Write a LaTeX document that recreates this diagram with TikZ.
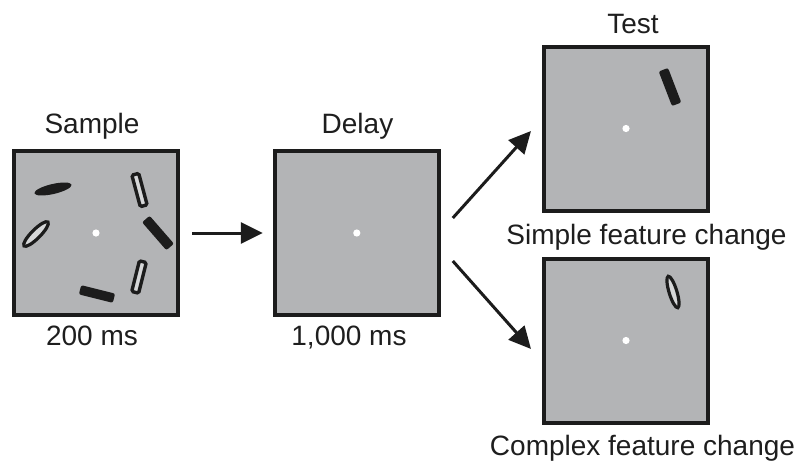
\documentclass[tikz,border=0pt]{standalone}
\usepackage{fontspec}
\setmainfont{Liberation Sans}
\usetikzlibrary{arrows.meta,calc}
\definecolor{panel}{RGB}{179,180,182}
\definecolor{slot}{RGB}{214,215,216}
\definecolor{ink}{RGB}{28,28,28}
\definecolor{txt}{RGB}{30,30,30}
\tikzset{
  screen/.style={draw=ink, line width=4pt, fill=panel, minimum size=164pt, inner sep=0pt, outer sep=2pt},
  label/.style={anchor=base, inner sep=0pt, text=txt, font=\fontsize{28}{32}\selectfont},
  flow/.style={draw=ink, line width=3pt, -{Triangle[length=22pt,width=21pt]}},
  fixdot/.style={fill=white},
  solidbar/.style={fill=ink, rounded corners=2pt},
  hollowbar/.style={draw=ink, fill=slot, line width=3.4pt, rounded corners=1.5pt},
  hollowoval/.style={draw=ink, fill=slot, line width=3.2pt},
  solidoval/.style={fill=ink},
}
% shape at centre #1, angle #2, length #3, width #4
\newcommand\solidbarat[4]{\path[solidbar, shift={(#1)}, rotate=#2] (-#3/2,-#4/2) rectangle (#3/2,#4/2);}
\newcommand\hollowbarat[4]{\path[hollowbar, shift={(#1)}, rotate=#2] (-#3/2+1.7,-#4/2+1.7) rectangle (#3/2-1.7,#4/2-1.7);}
\newcommand\solidovalat[4]{\path[solidoval, shift={(#1)}, rotate=#2] (0,0) ellipse [x radius=#3/2, y radius=#4/2];}
\newcommand\hollowovalat[4]{\path[hollowoval, shift={(#1)}, rotate=#2] (0,0) ellipse [x radius=#3/2-1.6, y radius=#4/2-1.6];}
\begin{document}
\begin{tikzpicture}[x=1pt, y=-1pt]
\useasboundingbox (0,0) rectangle (796,461);

% four display screens
\node[screen] (sample) at (96,233) {};
\node[screen] (delay)  at (356.8,233) {};
\node[screen] (testA)  at (626,128.5) {};
\node[screen] (testB)  at (626,340.5) {};

% fixation points
\foreach \s in {sample, delay, testA, testB}
  \fill[fixdot] (\s.center) circle (3.6);

% sample array
\solidovalat{53,189}{13}{38}{10}
\hollowovalat{36,234}{45}{37}{12}
\hollowbarat{139.5,190}{105}{36}{10.5}
\solidbarat{158,233}{-49}{37}{10}
\hollowbarat{139,277}{76}{35}{10.5}
\solidbarat{97,294}{-14}{35}{9.5}

% test arrays
\solidbarat{670,87}{-69}{37}{10}
\hollowovalat{673,292}{-73}{36}{11}

% captions
\node[label] (tSample) at (92,133.3) {Sample};
\node[label] (tDelay)  at (357.5,133.3) {Delay};
\node[label] (tTest)   at (633,33.3) {Test};
\node[label] (tShort)  at (92,345.7) {200 ms};
\node[label] (tLong)   at (349,345.7) {1,000 ms};
\node[label] (tSimple) at (646.5,244.3) {Simple feature change};
\node[label] (tComplex) at (642.5,455) {Complex feature change};

% sequence arrows
\draw[flow, shorten <=12pt, shorten >=10pt] (sample.east) -- (delay.west);
\coordinate (upStart)   at ($(delay.east)+(12,-15)$);
\coordinate (upEnd)     at ($(testA.west)+(-11,2.5)$);
\coordinate (downStart) at ($(delay.east)+(12,28)$);
\coordinate (downEnd)   at ($(testB.west)+(-11,8.5)$);
\draw[flow] (upStart) -- (upEnd);
\draw[flow] (downStart) -- (downEnd);
\end{tikzpicture}
\end{document}
